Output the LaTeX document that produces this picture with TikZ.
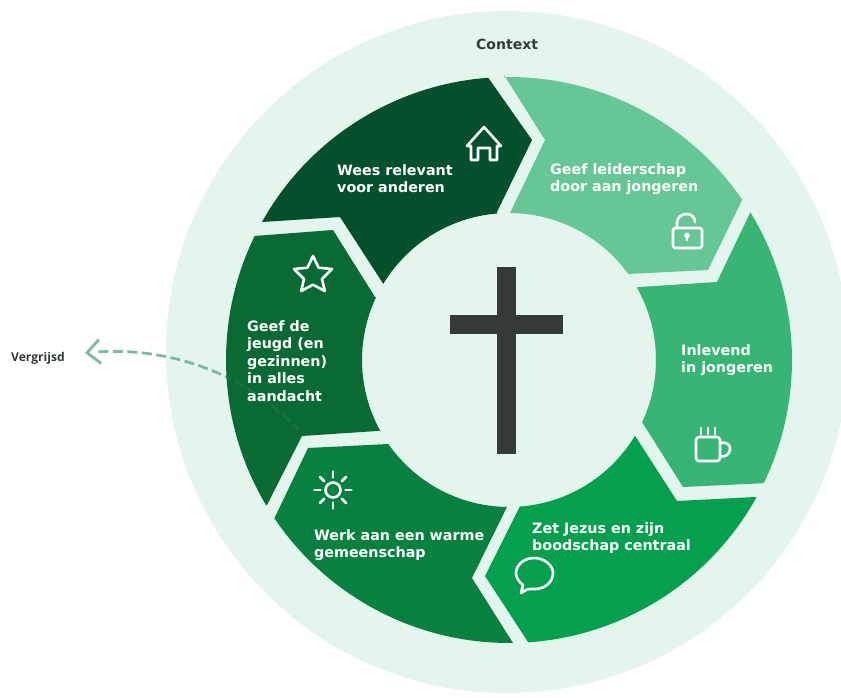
\documentclass[tikz,border=0pt]{standalone}
\usepackage{fontspec}
\setmainfont{DejaVu Sans}
\newfontfamily\opensans{Open Sans}
\usetikzlibrary{arrows.meta}
\definecolor{ringbg}{HTML}{E3F5ED}
\definecolor{segA}{HTML}{04502A}
\definecolor{segB}{HTML}{66C796}
\definecolor{segC}{HTML}{37B575}
\definecolor{segD}{HTML}{05A04D}
\definecolor{segE}{HTML}{088040}
\definecolor{segF}{HTML}{0A6A34}
\definecolor{crossc}{HTML}{343A38}
\definecolor{dashc}{HTML}{7FB8A3}
\definecolor{dashdim}{HTML}{167340}
\newcommand\ox{509+283*cos(\x)}
\newcommand\oy{360+283*sin(\x)}
\newcommand\ix{509+147*cos(\x)}
\newcommand\iy{360+147*sin(\x)}
\newcommand\segsix{(302,436) -- (267,505) -- plot[domain=149.1:206,samples=40] ({\ox},{\oy}) -- (333,230) -- (375,297) -- plot[domain=205.2:151.2,samples=30] ({\ix},{\iy}) -- cycle}
\newcommand\dashcurve{(tipend) .. controls (165,345) and (245,372) .. (dashstart)}
\tikzset{
  lbl/.style={font=\bfseries\fontsize{14.3}{17.6}\selectfont,align=left,text=white,anchor=west,inner sep=0pt},
  darklbl/.style={text=crossc,anchor=west,inner sep=0pt},
  icon/.style={draw=white,line width=2.6pt,line join=round,line cap=round},
  dashlong/.style={line width=2.8pt,dash pattern=on 0pt off 10pt on 10pt off 4.5pt on 10pt off 4.5pt on 10pt off 4.5pt on 10pt off 4.5pt on 10pt off 4.5pt on 10pt off 4.5pt on 10pt off 4.5pt on 10pt off 4.5pt on 10pt off 4.5pt on 10pt off 4.5pt on 10pt off 4.5pt on 10pt off 4.5pt on 10pt off 4.5pt on 10pt off 4.5pt on 10pt off 4.5pt on 10pt off 4.5pt on 10pt off 4.5pt on 10pt off 4.5pt}
}
\begin{document}
\begin{tikzpicture}[x=1pt,y=-1pt]
\useasboundingbox (0,0) rectangle (841,698);
\clip (0,0) rectangle (841,698);
\fill[white] (0,0) rectangle (841,698);
\fill[ringbg] (507,352) circle[radius=341pt];
% connector (passes under the sixth segment)
\coordinate (dashstart) at (298,430);
\coordinate (tipend) at (85,353);
\draw[dashc,dashlong,{Straight Barb[length=13pt,width=24pt,line width=2.8pt]}-] \dashcurve;
% segments
\fill[segA] (340,217) -- (262,222) -- plot[domain=209.2:265.8,samples=40] ({\ox},{\oy}) -- (532,140) -- (497,212) -- plot[domain=265.4:211.2,samples=30] ({\ix},{\iy}) -- cycle;
\fill[segB] (545,140) -- (504,75) -- plot[domain=269:325.5,samples=40] ({\ox},{\oy}) -- (708,270) -- (628,274) -- plot[domain=324.1:270.4,samples=30] ({\ix},{\iy}) -- cycle;
\fill[segC] (717,282) -- (750,213) -- plot[domain=-31.4:25.8,samples=40] ({\ox},{\oy}) -- (683,487) -- (642,422) -- plot[domain=25:-29.7,samples=30] ({\ix},{\iy}) -- cycle;
\fill[segD] (677,501) -- (755,497) -- plot[domain=29.1:86.1,samples=40] ({\ox},{\oy}) -- (485,576) -- (520,506) -- plot[domain=85.7:31,samples=30] ({\ix},{\iy}) -- cycle;
\fill[segE] (472,578) -- (513,643) -- plot[domain=89.2:146,samples=40] ({\ox},{\oy}) -- (308,448) -- (388,444) -- plot[domain=145.2:90.8,samples=30] ({\ix},{\iy}) -- cycle;
\fill[segF] \segsix;
\begin{scope}
\clip \segsix;
\draw[dashdim,dashlong] \dashcurve;
\end{scope}
% cross
\fill[crossc] (497,267) rectangle (516,454);
\fill[crossc] (450,315) rectangle (563,334);
% icons
\draw[icon] (484,127) -- (501,146) -- (497,146) -- (497,160) -- (490,160) -- (490,148) -- (478,148) -- (478,160) -- (471,160) -- (471,146) -- (467,146) -- cycle;
\draw[icon] (313,256) -- (318.6,267.7) -- (332,269) -- (322,279) -- (324.8,291) -- (313,284.7) -- (301.2,291) -- (304,279) -- (294,269) -- (307.4,267.7) -- cycle;
\draw[icon,rounded corners=2.5pt] (673,228) rectangle (702,248);
\draw[icon] (677,228) -- (677,223) .. controls (677,217) and (682,214) .. (687,214) .. controls (691,214) and (695,217) .. (695,222);
\fill[white] (687,235.5) circle[radius=2.8pt];
\draw[draw=white,line width=2pt] (687,235.5) -- (687,241);
\draw[icon,rounded corners=3pt] (696,437) -- (696,461) -- (720,461) -- (720,437) -- cycle;
\draw[icon] (720,443) .. controls (727,441) and (731,446) .. (730,450) .. controls (729,455) and (725,457) .. (720,456.5);
\draw[icon] (701,428) -- (701,434) (708,428) -- (708,434) (715,428) -- (715,434);
\draw[icon] (521,593) -- (523,585) .. controls (518,581) and (516,577) .. (516,573) .. controls (516,565) and (524,558) .. (534,558) .. controls (544,558) and (553,565) .. (553,573) .. controls (553,582) and (545,589) .. (535,589) .. controls (531,589) and (529,589) .. (527,589.5) -- cycle;
\draw[icon] (333,490) circle[radius=7.5pt];
\foreach \a in {0,45,...,315}{
  \draw[icon] ({333+12.5*cos(\a)},{490+12.5*sin(\a)}) -- ({333+18.5*cos(\a)},{490+18.5*sin(\a)});
}
% labels
\node[lbl] (wees) at (337,178.5) {Wees relevant\\voor anderen};
\node[lbl] (geef) at (550,179) {Geef leiderschap\\door aan jongeren};
\node[lbl] (inl) at (681,360) {Inlevend\\in jongeren};
\node[lbl] (zet) at (532,538) {Zet Jezus en zijn\\boodschap centraal};
\node[lbl] (werk) at (314,545) {Werk aan een warme\\gemeenschap};
\node[lbl] (jeugd) at (247,361) {Geef de\\jeugd (en\\gezinnen)\\in alles\\aandacht};
\node[darklbl,font=\bfseries\fontsize{14}{16}\selectfont] (context) at (476,44) {Context};
\node[darklbl,font=\opensans\bfseries\fontsize{12.1}{14}\selectfont] (verg) at (11,358.5) {Vergrijsd};
\end{tikzpicture}
\end{document}
